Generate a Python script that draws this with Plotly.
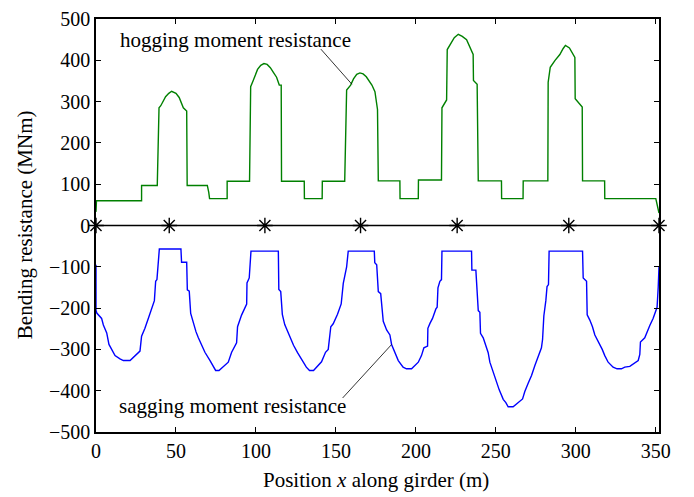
import plotly.graph_objects as go

# Hogging moment resistance (MNm) along girder
hog_x = [0, 0.3, 28.5, 28.5, 38.3, 39.4, 40.5, 42, 43.5, 45.5, 47.3, 50, 52, 54.6, 56.7, 57,
         69.6, 70.5, 71, 82, 82, 96, 96.7, 98.3, 99.5, 101, 103, 105, 107, 109, 111, 112.9, 114.6, 115.8, 116,
         130.2, 130.3, 141.4, 141.5, 155.5, 156.7, 159.2, 161, 163, 165, 167, 169, 171, 172.5, 174.4, 176, 176.5,
         190, 190.1, 201.5, 201.6, 216, 216.3, 219.2, 219.6, 222, 224, 226.5, 229, 231.7, 233.7, 235.8, 236, 238.3, 239,
         253.5, 253.6, 267, 267.1, 282.5, 282.7, 284, 287, 290, 292, 293.5, 296, 298, 299.4, 299.6, 304, 304.2,
         318, 318.1, 350, 352]
hog_y = [33, 60, 60, 97, 97, 285, 290, 300, 312, 320, 325, 320, 310, 285, 277, 97,
         97, 80, 65, 65, 107, 107, 336, 351, 365, 378, 388, 392, 390, 382, 370, 359, 340, 340, 107,
         107, 65, 65, 107, 107, 328, 340, 355, 366, 369.5, 367, 360, 350, 340, 324, 281, 108,
         108, 65, 65, 110, 110, 285, 304, 426, 441, 455, 463, 458, 450, 433, 414, 351, 342, 108,
         108, 65, 65, 108, 108, 347, 383, 400, 414, 428, 436, 430, 418, 407, 307, 287, 108,
         108, 65, 65, 30]

# Sagging moment resistance (MNm) along girder
sag_x = [0, 0, 0.5, 3.5, 4.6, 6.7, 8.1, 9.8, 11.9, 15, 17.1, 21.3, 27.5, 28.5, 30.6, 32.7, 34.8, 36.5, 37.3,
         38.1, 39.6, 53.1, 53.5, 56.7, 57.1, 58.3, 59.2, 60.8, 62.5, 64, 66, 68.1, 71.3, 73.3, 74.8, 76.9,
         82.7, 84.8, 87.9, 88.5, 91, 94.2, 94.4, 95.8, 96.9,
         114, 114.3, 115.5, 116.5, 118, 120, 121.5, 123.5, 126, 129, 131.5, 133.5, 136, 141, 143.5, 145.2,
         146.8, 148.3, 151, 153.3, 154.6, 156.7, 157.7,
         174, 174.3, 175.5, 176.5, 178, 179.2, 179.6, 181.7, 183.75, 184.8, 186.9, 189, 192, 194.1, 197.3,
         201.5, 203.5, 205, 207.3, 207.5, 208.8, 210.4, 212.5, 213.3, 213.8, 215, 216, 216.3,
         234.8, 235, 237.5, 239, 240, 240.4, 242.1, 243.75, 245.2, 246.25, 247.9, 249.4, 250.4, 252.1, 254.6,
         256.25, 257.7, 260.8, 266.7, 268.1, 270.2, 272.3, 274.4, 276.5, 278.5, 279.2, 280, 281.25, 282,
         282.9, 283.3,
         304.2, 304.6, 306.7, 307.1, 308.75, 310.4, 311.9, 313.5, 315, 316.5, 318.1, 320.2, 323.3, 325.8,
         328.5, 330.6, 333.75, 336.9, 339, 340, 340.4, 343.1, 344.6, 346.25, 348.3, 350, 350.8, 351.5, 352]
sag_y = [-95, -205, -212, -225, -241, -260, -288, -300, -315, -323, -327, -327, -304, -268, -249, -225, -198, -182, -135,
         -131, -57, -57, -89, -89, -156, -159, -213, -237, -257, -272, -288, -307, -327, -343, -351, -351,
         -331, -307, -284, -245, -217, -190, -139, -127, -62,
         -62, -155, -160, -215, -240, -258, -273, -290, -308, -328, -343, -351, -351, -330, -307, -300,
         -245, -238, -215, -190, -140, -100, -62,
         -62, -90, -95, -160, -165, -212, -232, -253, -265, -288, -308, -327, -343, -347, -347,
         -331, -315, -296, -292, -249, -237, -225, -202, -198, -151, -135, -131, -62,
         -62, -108, -108, -206, -210, -261, -272, -292, -308, -331, -351, -366, -382, -398, -421,
         -429, -439, -439, -420, -402, -382, -363, -339, -315, -296, -276, -219, -182, -148,
         -143, -62,
         -62, -127, -135, -216, -229, -245, -265, -276, -288, -300, -315, -331, -343, -347,
         -347, -343, -341, -333, -327, -312, -282, -272, -257, -242, -225, -206, -198, -150, -100]

# Supports (zero line with markers)
support_x = [0, 45.8, 105.6, 165.4, 225.8, 295.6, 352]
support_y = [0, 0, 0, 0, 0, 0, 0]

x_ticks = [0, 50, 100, 150, 200, 250, 300, 350]
y_ticks = [-500, -400, -300, -200, -100, 0, 100, 200, 300, 400, 500]

FONT = "Liberation Serif"
FS = 21
TICK_FS = 20

fig = go.Figure()
fig.add_trace(go.Scatter(x=hog_x, y=hog_y, mode="lines",
                         line=dict(color="#008000", width=1.4), showlegend=False))
fig.add_trace(go.Scatter(x=sag_x, y=sag_y, mode="lines",
                         line=dict(color="#0000ff", width=1.4), showlegend=False))
fig.add_trace(go.Scatter(x=support_x, y=support_y, mode="lines+markers",
                         line=dict(color="black", width=1.6),
                         marker=dict(symbol="asterisk-open", size=13,
                                     line=dict(color="black", width=1.4)),
                         cliponaxis=False, showlegend=False))

# annotation leader lines
fig.add_shape(type="line", xref="x", yref="y", x0=140.6, y0=427, x1=160, y1=342,
              line=dict(color="black", width=0.8))
fig.add_shape(type="line", xref="x", yref="y", x0=154.2, y0=-417.6, x1=184.8, y1=-288.2,
              line=dict(color="black", width=0.8))

fig.add_annotation(x=87.2, y=450, xref="x", yref="y", text="hogging moment resistance",
                   xanchor="center", yanchor="middle",
                   showarrow=False, font=dict(family=FONT, size=FS, color="black"))
fig.add_annotation(x=85.3, y=-437, xref="x", yref="y", text="sagging moment resistance",
                   xanchor="center", yanchor="middle",
                   showarrow=False, font=dict(family=FONT, size=FS, color="black"))

# axis titles
fig.add_annotation(x=-0.126, y=0.501, xref="paper", yref="paper", text="Bending resistance (MNm)",
                   textangle=-90, xanchor="center", yanchor="middle",
                   showarrow=False, font=dict(family=FONT, size=FS, color="black"))
fig.add_annotation(x=0.497, y=-0.116, xref="paper", yref="paper",
                   text="Position <i>x</i> along girder (m)", xanchor="center", yanchor="middle",
                   showarrow=False, font=dict(family=FONT, size=FS, color="black"))

axis_common = dict(showgrid=False, zeroline=False, showline=True, linecolor="black", linewidth=1.6,
                   mirror="allticks", ticks="inside", ticklen=5, tickwidth=1.2, tickcolor="black",
                   ticklabeloverflow="allow", automargin=False,
                   tickfont=dict(family=FONT, size=TICK_FS, color="black"))
fig.update_xaxes(range=[0, 352], tickvals=x_ticks, ticktext=[str(v) for v in x_ticks], **axis_common)
fig.update_yaxes(range=[-500, 500], tickvals=y_ticks,
                 ticktext=[str(v).replace("-", "\u2212") for v in y_ticks], **axis_common)

fig.update_layout(width=686, height=489, margin=dict(l=88, r=35, t=11, b=65, pad=0, autoexpand=False),
                  paper_bgcolor="white", plot_bgcolor="white",
                  font=dict(family=FONT, size=FS, color="black"))

fig.write_html("out.html")
